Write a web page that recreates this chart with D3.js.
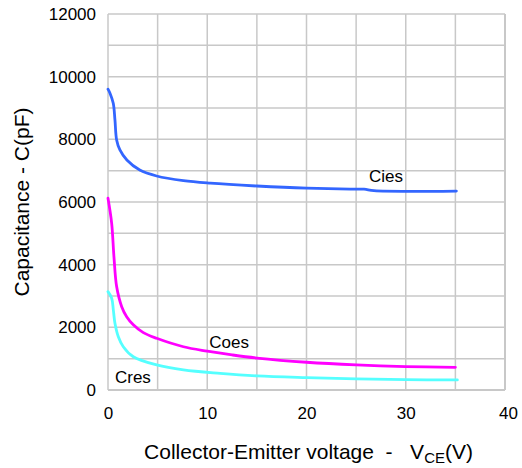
<!DOCTYPE html>
<html>
<head>
<meta charset="utf-8">
<script src="https://cdn.jsdelivr.net/npm/d3@7"></script>
<style>
  html, body { margin: 0; padding: 0; background: #fff; }
  svg { display: block; font-family: "Liberation Sans", Arial, sans-serif; }
</style>
</head>
<body>
<svg id="chart" width="522" height="468"></svg>
<script>
// Capacitance vs collector-emitter voltage
const xTicks = [0, 10, 20, 30, 40];
const yTicks = [0, 2000, 4000, 6000, 8000, 10000, 12000];

const ciesV = [0, 0.2, 0.53, 0.7, 0.87, 1.2, 1.9, 3.2, 4.9, 7.6, 10.3, 15, 20, 24.4, 25.8, 26.8, 35.1];
const ciesC = [9600, 9470, 9150, 8620, 7980, 7660, 7340, 7020, 6830, 6680, 6600, 6510, 6440, 6410, 6410, 6360, 6350];

const coesV = [0, 0.37, 0.6, 0.87, 1.38, 1.88, 2.55, 3.56, 4.9, 7.6, 10, 12.5, 15, 20, 25, 30, 35];
const coesC = [6120, 5320, 4250, 3300, 2660, 2340, 2080, 1830, 1650, 1380, 1240, 1120, 1020, 885, 800, 748, 725];

const cresV = [0, 0.37, 0.54, 0.7, 1.04, 1.54, 2.55, 4.9, 7.6, 11.3, 15, 20, 25, 30, 35.2];
const cresC = [3140, 2930, 2550, 2130, 1700, 1380, 1060, 800, 640, 530, 450, 395, 355, 330, 320];

const seriesNames = ["Cies", "Coes", "Cres"];

const svg = d3.select("#chart");
const plotL = 108, plotR = 505, plotT = 14, plotB = 390;

const x = d3.scaleLinear().domain([0, 40]).range([plotL, plotR]);
const y = d3.scaleLinear().domain([0, 12000]).range([plotB, plotT]);

const gridColor = "#c8c8c8";

// grid: verticals every 5 V, horizontals every 1000 pF
const g = svg.append("g");
g.selectAll("line.vx").data(d3.range(0, 41, 5)).join("line")
  .attr("x1", d => x(d)).attr("x2", d => x(d))
  .attr("y1", plotT).attr("y2", plotB)
  .attr("stroke", gridColor).attr("stroke-width", d => (d === 40 ? 2 : 1.5));
g.selectAll("line.hy").data(d3.range(0, 12001, 1000)).join("line")
  .attr("x1", plotL).attr("x2", plotR)
  .attr("y1", d => y(d)).attr("y2", d => y(d))
  .attr("stroke", gridColor).attr("stroke-width", d => (d === 0 ? 2 : 1.5));

// tick labels
const xAxis = d3.axisBottom(x).tickValues(xTicks).tickSize(0).tickPadding(17);
svg.append("g").attr("transform", `translate(0,${plotB})`).call(xAxis)
  .call(s => s.select(".domain").remove())
  .call(s => s.selectAll("text").attr("font-size", 17).attr("fill", "#000")
    .attr("font-family", "Liberation Sans, Arial, sans-serif")
    .attr("dx", d => (d === 40 ? 3 : 0)));

const yAxis = d3.axisLeft(y).tickValues(yTicks).tickSize(0).tickPadding(12)
  .tickFormat(d3.format("d"));
svg.append("g").attr("transform", `translate(${plotL},0)`).call(yAxis)
  .call(s => s.select(".domain").remove())
  .call(s => s.selectAll("text").attr("font-size", 17).attr("fill", "#000")
    .attr("font-family", "Liberation Sans, Arial, sans-serif"));

// axis titles
svg.append("text")
  .attr("transform", `translate(29,${(plotT + plotB) / 2}) rotate(-90)`)
  .attr("text-anchor", "middle")
  .attr("font-size", 21)
  .text("Capacitance - C(pF)");

const xt = svg.append("text")
  .attr("x", (plotL + plotR) / 2 + 2).attr("y", 459)
  .attr("text-anchor", "middle")
  .attr("font-size", 21);
xt.append("tspan").text("Collector-Emitter voltage\u00a0 -\u00a0\u00a0\u00a0V");
xt.append("tspan").attr("font-size", 15).attr("dy", 4).text("CE");
xt.append("tspan").attr("dy", -4).text("(V)");

// curves
const line = d3.line().x(d => x(d[0])).y(d => y(d[1])).curve(d3.curveCatmullRom.alpha(0.5));
const series = [
  { name: seriesNames[0], v: ciesV, c: ciesC, color: "#3366ff" },
  { name: seriesNames[1], v: coesV, c: coesC, color: "#ff00ff" },
  { name: seriesNames[2], v: cresV, c: cresC, color: "#55ffff" }
];
svg.append("g").selectAll("path").data(series).join("path")
  .attr("d", s => line(d3.zip(s.v, s.c)))
  .attr("fill", "none")
  .attr("stroke", s => s.color)
  .attr("stroke-width", 2.8)
  .attr("stroke-linejoin", "round")
  .attr("stroke-linecap", "round");

// curve names, positioned in data units
const labelPos = [
  { text: seriesNames[0], v: 26.3, c: 6650 },
  { text: seriesNames[1], v: 10.2, c: 1330 },
  { text: seriesNames[2], v: 0.7, c: 210 }
];
svg.append("g").selectAll("text").data(labelPos).join("text")
  .attr("x", d => x(d.v)).attr("y", d => y(d.c))
  .attr("font-size", 17)
  .text(d => d.text);
</script>
</body>
</html>
